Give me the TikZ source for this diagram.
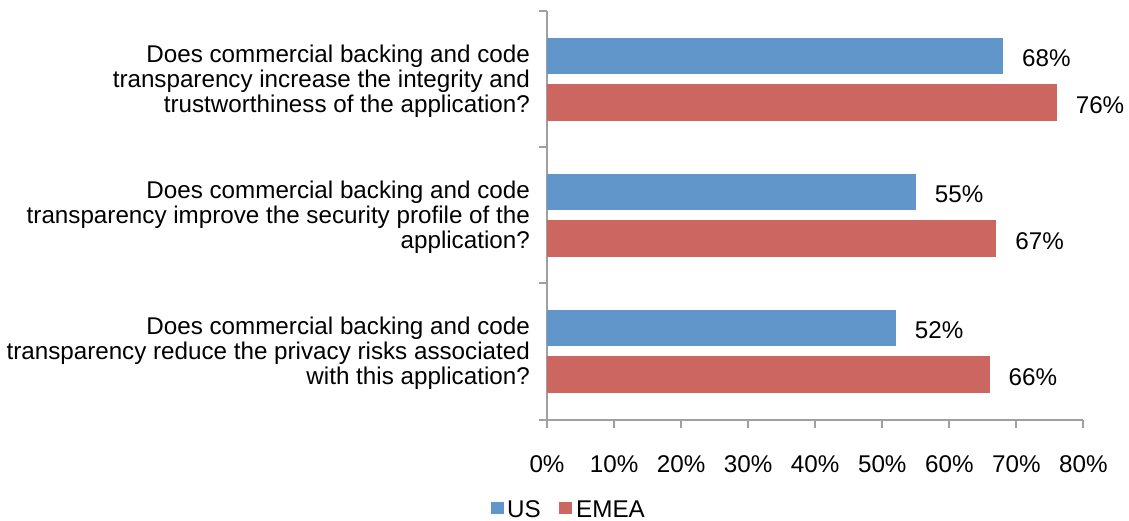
\documentclass[tikz,border=0pt]{standalone}
\usepackage{fontspec}
\setmainfont{Liberation Sans}
\definecolor{usblue}{HTML}{6096CA}
\definecolor{emeared}{HTML}{CC6661}
\definecolor{axisgray}{HTML}{A0A0A0}
\begin{document}
\begin{tikzpicture}[x=1pt,y=-1pt,
  axisline/.style={draw=axisgray,line width=2pt},
  usbar/.style={fill=usblue},
  emeabar/.style={fill=emeared},
  question/.style={anchor=east,align=right,font=\fontsize{24.2}{25}\selectfont,inner sep=0pt},
  valuelabel/.style={anchor=west,font=\fontsize{24.2}{26}\selectfont,inner sep=0pt},
  ticklabel/.style={anchor=center,font=\fontsize{24.2}{26}\selectfont,inner sep=0pt},
  legendtext/.style={anchor=west,font=\fontsize{24.2}{26}\selectfont,inner sep=0pt}]
\useasboundingbox (0,0) rectangle (1129,521);
% scale: 0% at x=547, 10% = 67.05 px
\def\xo{547}
\def\xs{6.705}
% axes
\coordinate (origin) at (\xo,420);
\coordinate (ytop) at (\xo,11);
\coordinate (xend) at ({\xo+80*\xs},420);
\draw[axisline] (ytop) -- (origin) -- (xend);
% category ticks on the vertical axis
\foreach \y in {11,147,283,420}
  \draw[axisline] (539,\y) -- (\xo,\y);
% percentage ticks and labels
\foreach \p in {0,10,...,80} {
  \draw[axisline] ({\xo+\p*\xs},420) -- ({\xo+\p*\xs},428);
  \node[ticklabel] (t\p) at ({\xo+\p*\xs},464) {\p\%};
}
% bars: category top offsets 11, 147, 283
\foreach \top/\us/\em/\n in {11/68/76/1,147/55/67/2,283/52/66/3} {
  \fill[usbar] (\xo,\top+27) rectangle ({\xo+\us*\xs},\top+63);
  \fill[emeabar] (\xo,\top+73) rectangle ({\xo+\em*\xs},\top+110);
  \node[valuelabel] (us\n) at ({\xo+\us*\xs+19},\top+47) {\us\%};
  \node[valuelabel] (em\n) at ({\xo+\em*\xs+19},\top+94) {\em\%};
}
% questions
\node[question] (q1) at (530,81) {Does commercial backing and code\\transparency increase the integrity and\\trustworthiness of the application?};
\node[question] (q2) at (530,217) {Does commercial backing and code\\transparency improve the security profile of the\\application?};
\node[question] (q3) at (530,353) {Does commercial backing and code\\transparency reduce the privacy risks associated\\with this application?};
% legend
\fill[usbar] (491,502) rectangle (504,514);
\node[legendtext] (lus) at (507,509) {US};
\fill[emeabar] (559,502) rectangle (572,514);
\node[legendtext] (lem) at (576,509) {EMEA};
\end{tikzpicture}
\end{document}
